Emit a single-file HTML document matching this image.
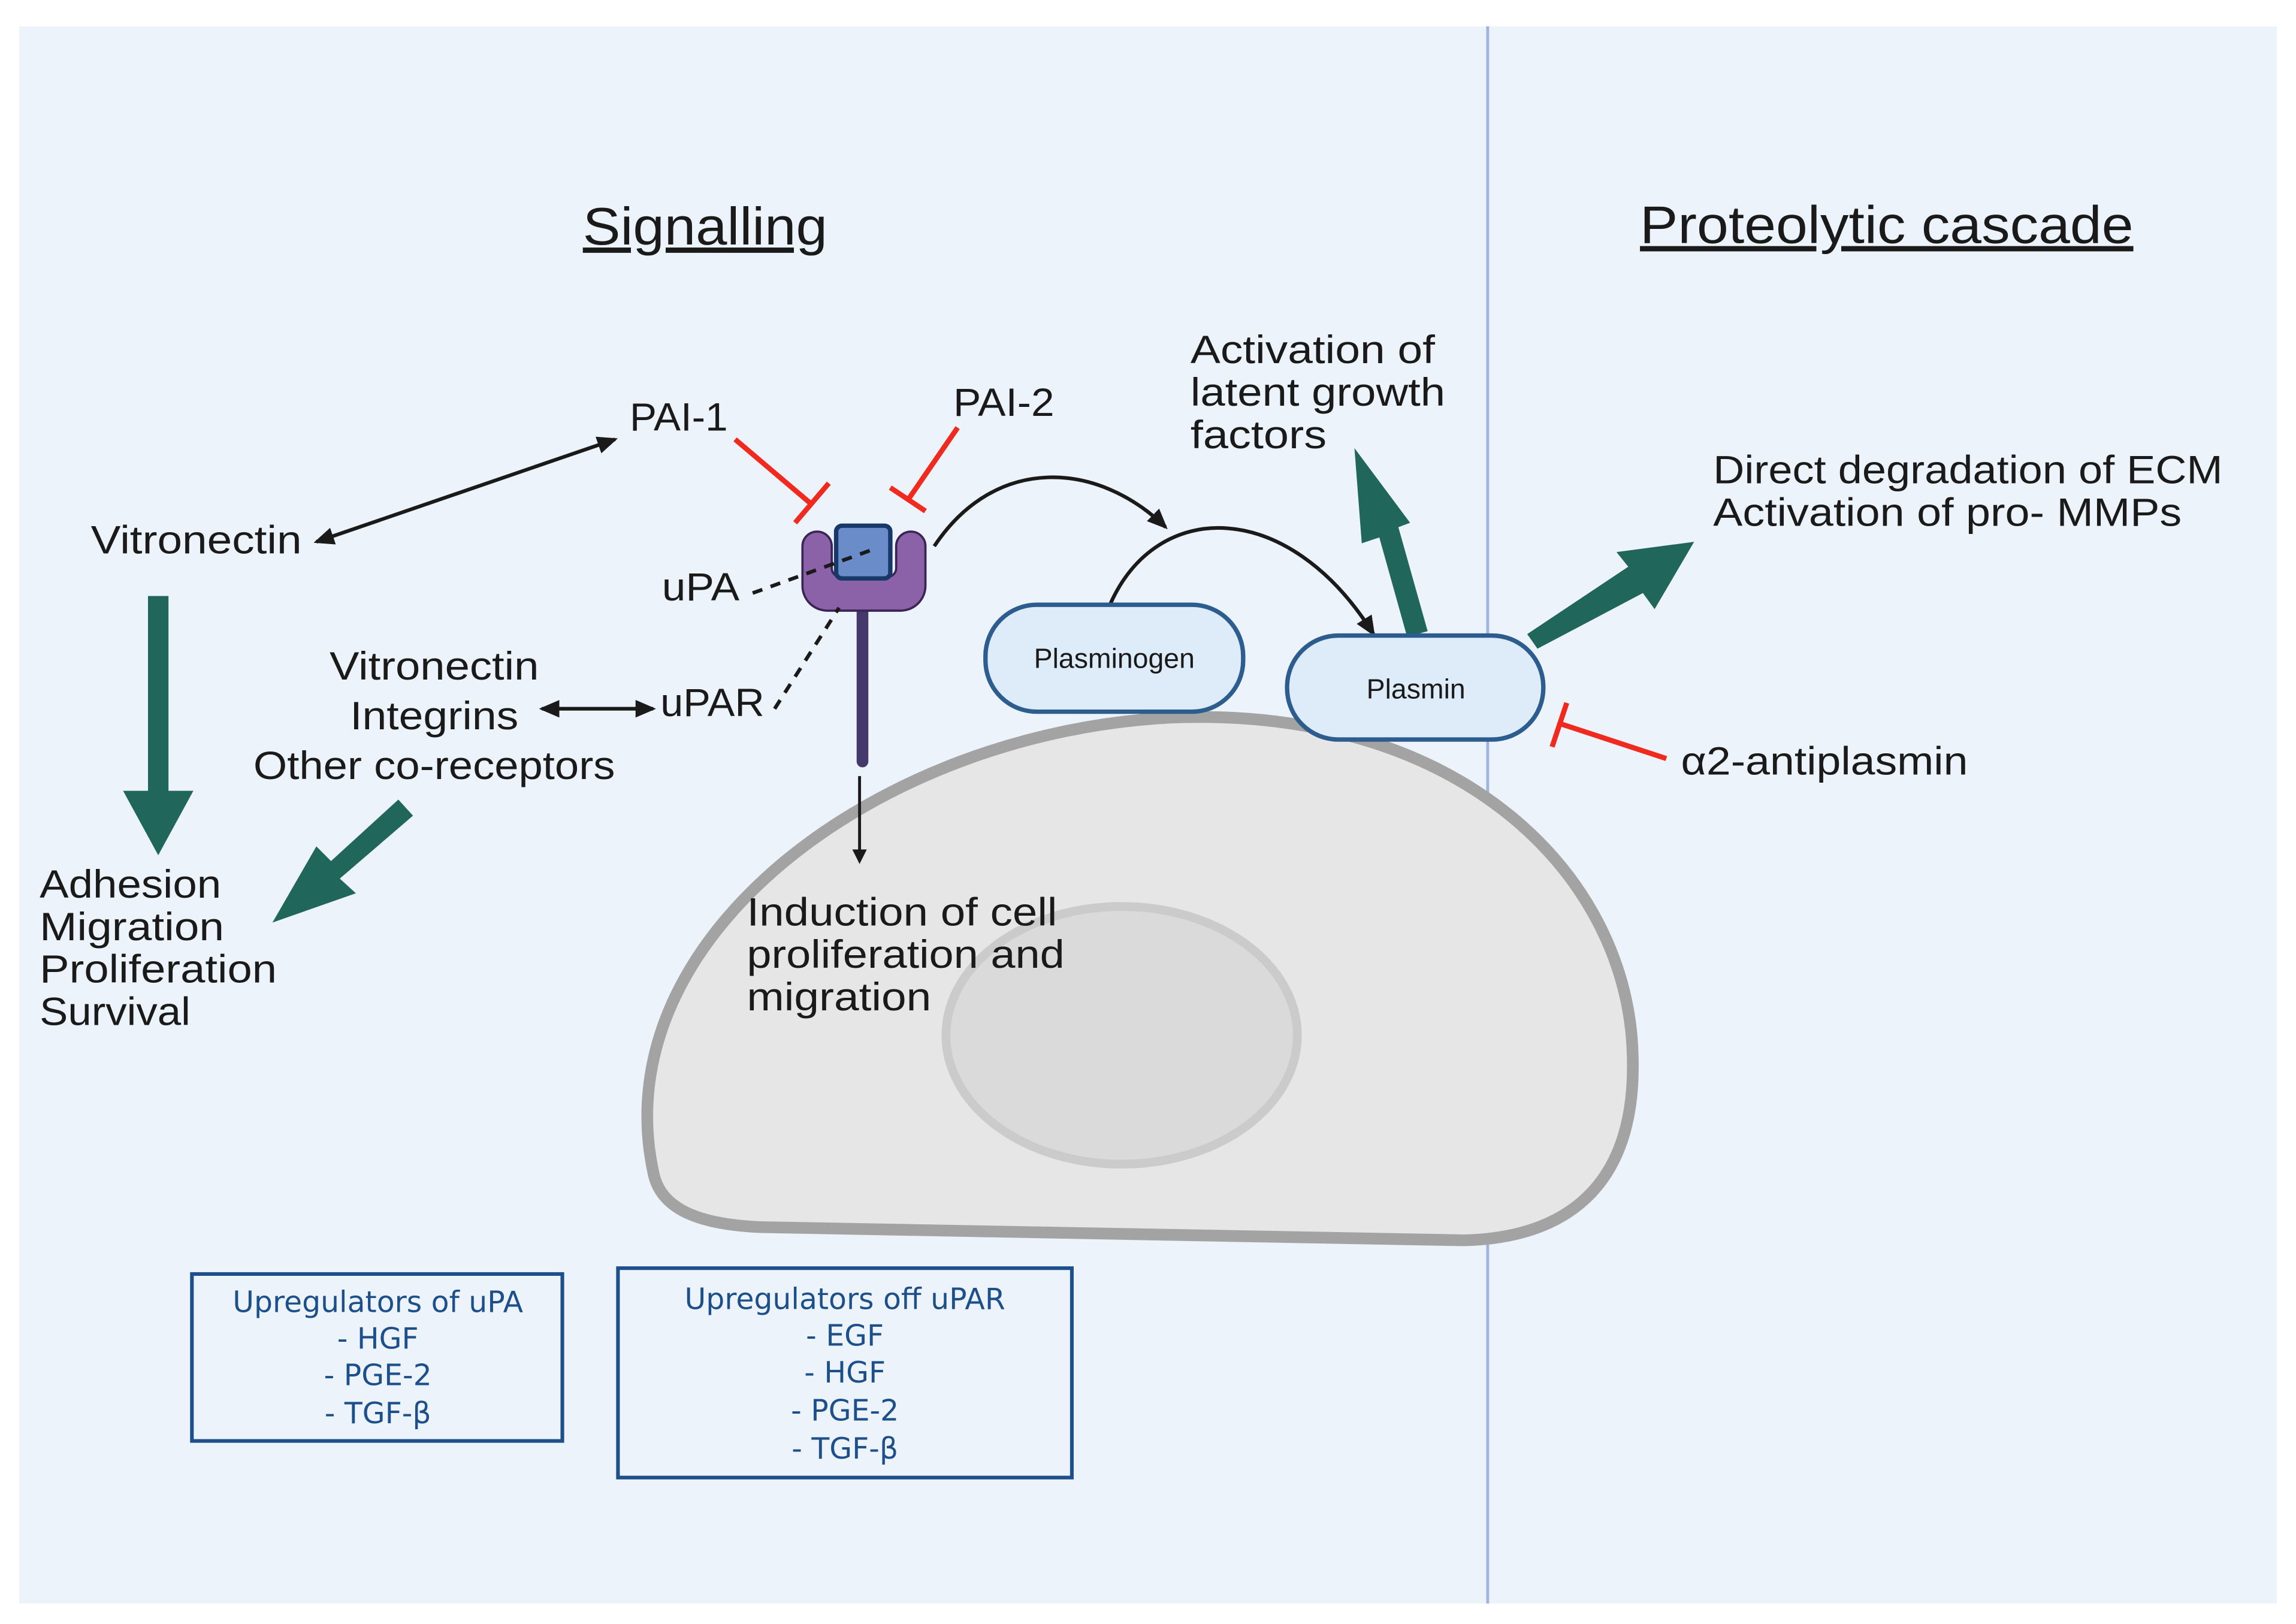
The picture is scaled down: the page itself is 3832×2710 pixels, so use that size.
<!DOCTYPE html>
<html><head><meta charset="utf-8"><style>
html,body{margin:0;padding:0;background:#fff;}
svg{display:block;}
text{font-family:"Liberation Sans",sans-serif;fill:#1a1a1a;}
.b{font-family:"DejaVu Sans",sans-serif;fill:#1d4f8a;font-size:20px;}
</style></head><body>
<svg width="3832" height="2710" viewBox="0 0 1568 1109" xmlns="http://www.w3.org/2000/svg">
<defs>
<marker id="ah" markerWidth="10" markerHeight="10" refX="8" refY="5" orient="auto" markerUnits="userSpaceOnUse" viewBox="0 0 10 10"><path d="M0,0 L10,5 L0,10 Z" fill="#1a1a1a"/></marker>
<marker id="ahs" markerWidth="14" markerHeight="12" refX="12" refY="6" orient="auto-start-reverse" markerUnits="userSpaceOnUse"><path d="M0,0 L14,6 L0,12 Z" fill="#1a1a1a"/></marker>
</defs>
<rect x="13" y="18" width="1542" height="1077" fill="#edf3fb"/>
<line x1="1016" y1="18" x2="1016" y2="1095" stroke="#9fb4dd" stroke-width="2"/>

<text x="398" y="167" font-size="36" text-decoration="underline" textLength="167" lengthAdjust="spacingAndGlyphs">Signalling</text>
<text x="1120" y="166" font-size="36" text-decoration="underline" textLength="337" lengthAdjust="spacingAndGlyphs">Proteolytic cascade</text>

<!-- cell -->
<path d="M446,800 C412,640 600,500 800,490 C1000,482 1112,600 1115,720 C1118,805 1075,845 1000,847 L520,838 C470,836 450,822 446,800 Z" fill="#e6e6e6" stroke="#a3a3a3" stroke-width="8"/>
<ellipse cx="766" cy="707" rx="120" ry="88" fill="#dadada" stroke="#cbcbcb" stroke-width="6"/>

<!-- receptor stem -->
<line x1="589" y1="415" x2="589" y2="520" stroke="#45396b" stroke-width="8" stroke-linecap="round"/>
<path d="M548,373 a10,10 0 0 1 20,0 V388 a6,6 0 0 0 6,6 H606 a6,6 0 0 0 6,-6 V373 a10,10 0 0 1 20,0 V400 a17,17 0 0 1 -17,17 H565 a17,17 0 0 1 -17,-17 Z" fill="#8b62a8" stroke="#3a2355" stroke-width="1.5"/>
<rect x="571" y="359" width="37" height="36" rx="4" fill="#6a8cc8" stroke="#173868" stroke-width="3"/>
<line x1="514" y1="405" x2="594" y2="376" stroke="#1a1a1a" stroke-width="2.5" stroke-dasharray="7,6"/>
<line x1="529" y1="484" x2="573" y2="415" stroke="#1a1a1a" stroke-width="2.5" stroke-dasharray="7,6"/>
<line x1="587" y1="530" x2="587" y2="588" stroke="#1a1a1a" stroke-width="2" marker-end="url(#ah)"/>

<!-- inhibitors -->
<line x1="502" y1="300" x2="555" y2="345" stroke="#f02a1e" stroke-width="3.5"/>
<line x1="543" y1="357" x2="566" y2="330" stroke="#f02a1e" stroke-width="3.5"/>
<line x1="654" y1="292" x2="621" y2="340" stroke="#f02a1e" stroke-width="3.5"/>
<line x1="608" y1="333" x2="632" y2="349" stroke="#f02a1e" stroke-width="3.5"/>
<line x1="1138" y1="518" x2="1065" y2="494" stroke="#f02a1e" stroke-width="3.5"/>
<line x1="1060" y1="510" x2="1070" y2="480" stroke="#f02a1e" stroke-width="3.5"/>

<!-- black arrows -->
<line x1="216" y1="370" x2="420" y2="300" stroke="#1a1a1a" stroke-width="2.5" marker-start="url(#ahs)" marker-end="url(#ahs)"/>
<line x1="370" y1="484" x2="446" y2="484" stroke="#1a1a1a" stroke-width="2.5" marker-start="url(#ahs)" marker-end="url(#ahs)"/>
<path d="M638,373 C680,310 750,315 796,360" fill="none" stroke="#1a1a1a" stroke-width="2.5" marker-end="url(#ahs)"/>
<path d="M758,413 C790,340 880,340 938,433" fill="none" stroke="#1a1a1a" stroke-width="2.5" marker-end="url(#ahs)"/>

<!-- green arrows -->
<g fill="#21665a">
<rect x="101" y="407" width="14" height="135"/>
<path d="M84,540 L132,540 L108,584 Z"/>
<path d="M282,557 L272,546 L226,588 L216,578 L186,630 L243,610 L232,600 Z"/>
<path d="M975,431 L961,435 L942,367 L930,371 L925,306 L963,357 L955,360 Z"/>
<path d="M1050,443 L1043,433 L1112,387 L1104,377 L1157,370 L1130,416 L1122,405 Z"/>
</g>

<!-- nodes -->
<rect x="673" y="413" width="176" height="73" rx="35" fill="#deebf8" stroke="#2d5d8e" stroke-width="3"/>
<text x="761" y="456" font-size="19" text-anchor="middle">Plasminogen</text>
<rect x="879" y="434" width="175" height="71" rx="35" fill="#deebf8" stroke="#2d5d8e" stroke-width="3"/>
<text x="967" y="477" font-size="19" text-anchor="middle">Plasmin</text>

<!-- labels -->
<g font-size="27" lengthAdjust="spacingAndGlyphs">
<text x="430" y="294" textLength="67" lengthAdjust="spacingAndGlyphs">PAI-1</text>
<text x="651" y="284" textLength="69" lengthAdjust="spacingAndGlyphs">PAI-2</text>
<text x="62" y="378" textLength="144" lengthAdjust="spacingAndGlyphs">Vitronectin</text>
<text x="452" y="410" textLength="53" lengthAdjust="spacingAndGlyphs">uPA</text>
<text x="451" y="489" textLength="71" lengthAdjust="spacingAndGlyphs">uPAR</text>
<text x="225" y="464" textLength="143" lengthAdjust="spacingAndGlyphs">Vitronectin</text>
<text x="239" y="498" textLength="115" lengthAdjust="spacingAndGlyphs">Integrins</text>
<text x="173" y="532" textLength="247" lengthAdjust="spacingAndGlyphs">Other co-receptors</text>
<text x="27" y="613" textLength="124" lengthAdjust="spacingAndGlyphs">Adhesion</text>
<text x="27" y="642" textLength="126" lengthAdjust="spacingAndGlyphs">Migration</text>
<text x="27" y="671" textLength="162" lengthAdjust="spacingAndGlyphs">Proliferation</text>
<text x="27" y="700" textLength="103" lengthAdjust="spacingAndGlyphs">Survival</text>
<text x="510" y="632" textLength="212" lengthAdjust="spacingAndGlyphs">Induction of cell</text>
<text x="510" y="661" textLength="217" lengthAdjust="spacingAndGlyphs">proliferation and</text>
<text x="510" y="690" textLength="126" lengthAdjust="spacingAndGlyphs">migration</text>
<text x="813" y="248" textLength="167" lengthAdjust="spacingAndGlyphs">Activation of</text>
<text x="813" y="277" textLength="174" lengthAdjust="spacingAndGlyphs">latent growth</text>
<text x="813" y="306" textLength="93" lengthAdjust="spacingAndGlyphs">factors</text>
<text x="1170" y="330" textLength="348" lengthAdjust="spacingAndGlyphs">Direct degradation of ECM</text>
<text x="1170" y="359" textLength="320" lengthAdjust="spacingAndGlyphs">Activation of pro- MMPs</text>
<text x="1148" y="529" textLength="196" lengthAdjust="spacingAndGlyphs">α2-antiplasmin</text>
</g>

<!-- boxes -->
<rect x="131" y="870" width="253" height="114" fill="none" stroke="#1d4f8a" stroke-width="2.5"/>
<text class="b" x="258" y="896" text-anchor="middle">Upregulators of uPA</text>
<text class="b" x="258" y="921" text-anchor="middle">- HGF</text>
<text class="b" x="258" y="946" text-anchor="middle">- PGE-2</text>
<text class="b" x="258" y="972" text-anchor="middle">- TGF-β</text>
<rect x="422" y="866" width="310" height="143" fill="none" stroke="#1d4f8a" stroke-width="2.5"/>
<text class="b" x="577" y="894" text-anchor="middle">Upregulators off uPAR</text>
<text class="b" x="577" y="919" text-anchor="middle">- EGF</text>
<text class="b" x="577" y="944" text-anchor="middle">- HGF</text>
<text class="b" x="577" y="970" text-anchor="middle">- PGE-2</text>
<text class="b" x="577" y="996" text-anchor="middle">- TGF-β</text>
</svg>
</body></html>
